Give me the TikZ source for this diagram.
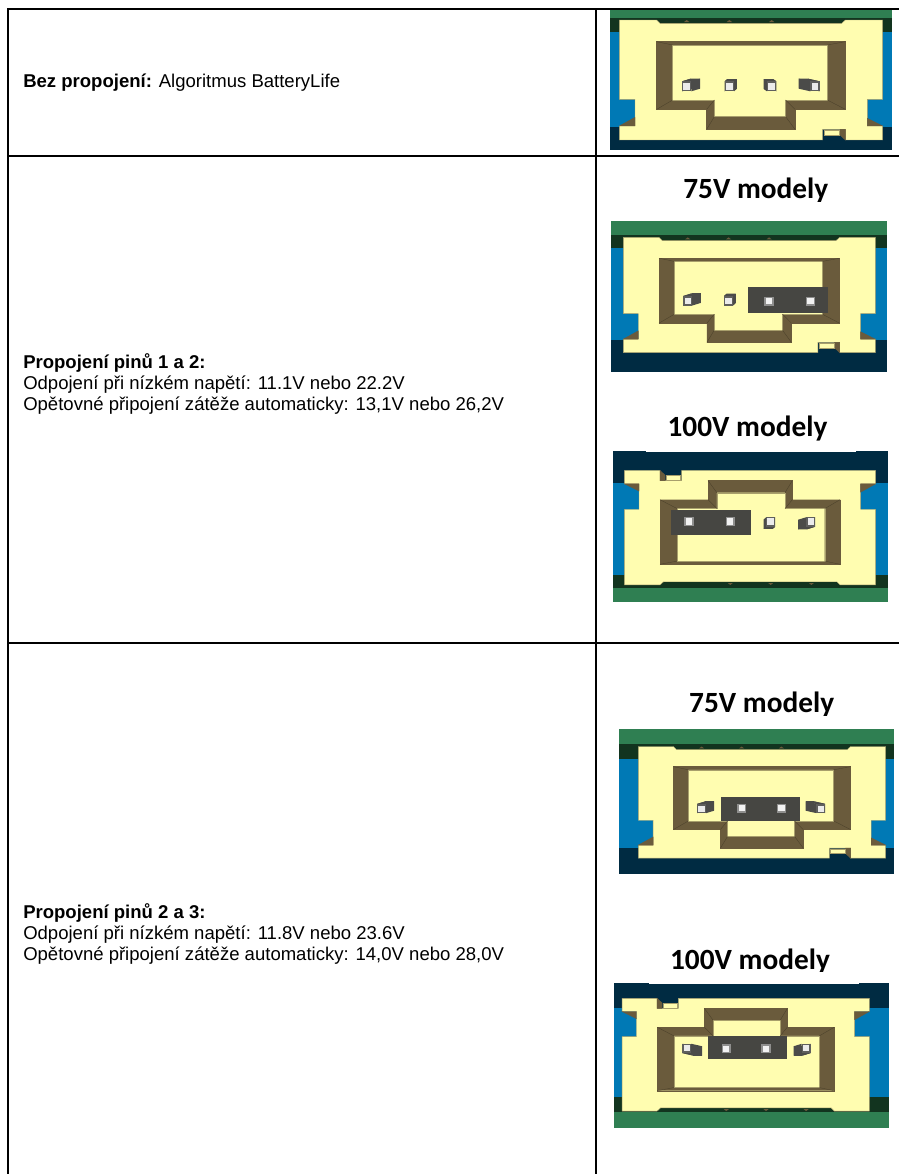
\documentclass[tikz,border=0pt]{standalone}
\usepackage{fontspec}
\setmainfont{Liberation Sans}
\newfontfamily\labelfont{Carlito}
\usepackage{tikz}
\definecolor{boardgreen}{HTML}{2F7F52}
\definecolor{darkgreen}{HTML}{12341F}
\definecolor{sideblue}{HTML}{0079B5}
\definecolor{navy}{HTML}{002B42}
\definecolor{shell}{HTML}{FFFDB0}
\definecolor{wall}{HTML}{6A5B3C}
\definecolor{edgeline}{HTML}{A89F6C}
\definecolor{pinface}{HTML}{5F5F5D}
\definecolor{pinside}{HTML}{4B4B49}
\definecolor{jumperbody}{HTML}{464642}
\tikzset{
    grid/.style={
           draw=black,
           line width=1.5pt,
           },
    desc/.style={
           anchor=west,
           align=left,
           inner sep=0pt,
           font=\fontsize{13.9pt}{15.8pt}\selectfont,
           },
    modellabel/.style={
           anchor=base,
           inner sep=0pt,
           font=\labelfont\bfseries\fontsize{22pt}{24pt}\selectfont,
           },
    shellpart/.style={
           fill=shell,
           draw=edgeline,
           line width=0.3pt,
           },
    wallpart/.style={
           fill=wall,
           draw=wall,
           line width=0.3pt,
           },
    bevel/.style={
           draw=wall!70!black,
           line width=0.25pt,
           },
}
% one connector seen from above, centred on (0,0)
\newcommand{\plugbody}{
  \path[shellpart] (-395,-180) -- (-283,-180) -- (-273,-170) -- (272,-170) -- (283,-180)
     -- (395,-180) -- (395,58) -- (349,58) -- (349,138) -- (395,138) -- (395,180)
     -- (283,180) -- (283,148) -- (215,148) -- (215,180) -- (-395,180) -- (-395,138)
     -- (-348,138) -- (-348,58) -- (-395,58) -- cycle;
  \path[wallpart] (349,115) -- (395,138) -- (349,138) -- cycle;
  \path[wallpart] (-348,112) -- (-395,138) -- (-348,138) -- cycle;
  \path[wallpart] (267,148) -- (283,148) -- (283,180) -- (267,165) -- cycle;
  \path[shellpart] (219,150) rectangle (265,165);
  \path[wallpart] (-283,-115) -- (283,-115) -- (283,88) -- (132,88) -- (132,148)
     -- (-133,148) -- (-133,88) -- (-283,88) -- cycle;
  \path[shellpart] (-235,-105) -- (229,-105) -- (229,60) -- (104,60) -- (104,110)
     -- (-110,110) -- (-110,60) -- (-235,60) -- cycle;
  \foreach \xa/\ya/\xb/\yb in {-283/-115/-235/-105, 283/-115/229/-105, 283/88/229/60,
     132/88/104/60, 132/148/104/110, -133/148/-110/110, -133/88/-110/60, -283/88/-235/60}
     \draw[bevel] (\xa,\ya) -- (\xb,\yb);
  \foreach \xa in {-193,-65,62}
     \fill[wall] (\xa-8,-174) -- (\xa+8,-174) -- (\xa,-180) -- cycle;
}
% loose pin: position, then how far its shaft leans
\newcommand{\loosepin}[4]{
  \fill[pinside] (#1-14+#3,#2-16+#4) rectangle (#1+14+#3,#2+14+#4);
  \fill[pinside] (#1-14,#2-16) -- (#1-14+#3,#2-16+#4) -- (#1+14+#3,#2-16+#4) -- (#1+14,#2-16) -- cycle;
  \fill[pinside] (#1-14,#2-16) -- (#1-14+#3,#2-16+#4) -- (#1-14+#3,#2+14+#4) -- (#1-14,#2+14) -- cycle;
  \fill[pinside] (#1+14,#2-16) -- (#1+14+#3,#2-16+#4) -- (#1+14+#3,#2+14+#4) -- (#1+14,#2+14) -- cycle;
  \fill[pinface] (#1-14,#2-16) rectangle (#1+14,#2+14);
  \fill[white!92!black] (#1-10,#2-10) rectangle (#1+10,#2+10);
}
\newcommand{\jumper}[4]{
  \fill[jumperbody] (#1,#3) rectangle (#2,#4);
  \foreach \xa in {-193,-65,62,192}{
     \ifnum\xa>\numexpr#1\relax \ifnum\xa<\numexpr#2\relax
        \fill[pinface!70!white] (\xa-15,5) rectangle (\xa+15,34);
        \fill[white!95!black] (\xa-10,10) rectangle (\xa+10,29);
     \fi \fi
  }
}
\newcommand{\bandstack}[3]{
  \foreach \ya/\yb/\bandcol in {#3}
     \fill[\bandcol] (#1,\ya) rectangle (#2,\yb);
}
\begin{document}
\begin{tikzpicture}[x=0.75pt,y=-0.75pt]
  \useasboundingbox (0,0) rectangle (899,1174);
  \fill[white] (0,0) rectangle (899,1174);

  % table texts
  \node[desc] (nolink) at (23,83) {\textbf{Bez propojení:} Algoritmus BatteryLife};
  \node[desc] (link12) at (23,384.3) {\textbf{Propojení pinů 1 a 2:}\\Odpojení při nízkém napětí: 11.1V nebo 22.2V\\Opětovné připojení zátěže automaticky: 13,1V nebo 26,2V};
  \node[desc] (link23) at (23,934.3) {\textbf{Propojení pinů 2 a 3:}\\Odpojení při nízkém napětí: 11.8V nebo 23.6V\\Opětovné připojení zátěže automaticky: 14,0V nebo 28,0V};

  % model captions, their lower edge is cut off by the picture below them
  \node[modellabel] (m75a)  at (755.8,198.3) {75V modely};
  \node[modellabel] (m100a) at (747.5,436.7) {100V modely};
  \node[modellabel] (m75b)  at (761.7,712.3) {75V modely};
  \node[modellabel] (m100b) at (750,969.3)   {100V modely};
  \fill[white] (660,201.7) rectangle (850,212);
  \fill[white] (646,440.8) rectangle (856,451);
  \fill[white] (660,715.7) rectangle (860,727);
  \fill[white] (649,972.3) rectangle (859,983.3);

  % row 1
  \bandstack{610}{892}{9/17.7/boardgreen, 17.7/31.7/darkgreen, 31.7/126.7/sideblue, 126.7/150/navy}
  \begin{scope}[shift={(751,80)},xscale=0.3333,yscale=0.3333]
    \plugbody
    \loosepin{-193}{20}{26}{-8}
    \loosepin{-65}{20}{8}{-7}
    \loosepin{62}{20}{-10}{-7}
    \loosepin{192}{20}{-35}{-8}
  \end{scope}

  % row 2
  \bandstack{611}{887}{221/235/boardgreen, 235/248.3/darkgreen, 248.3/340/sideblue, 340/371.7/navy}
  \begin{scope}[shift={(749.3,295)},xscale=0.319,yscale=0.32]
    \plugbody
    \loosepin{-193}{19}{26}{-8}
    \loosepin{-65}{19}{8}{-7}
    \jumper{-4}{248}{-24}{57}
  \end{scope}
  \bandstack{613}{888}{451/482.7/navy, 482.7/575/sideblue, 575/587.7/darkgreen, 587.7/601.7/boardgreen}
  \begin{scope}[shift={(750,527.7)},xscale=-0.318,yscale=-0.318]
    \plugbody
    \loosepin{-191}{19}{26}{-8}
    \loosepin{-65}{19}{8}{-7}
    \jumper{-4}{248}{-24}{57}
  \end{scope}
  \fill[white] (646,450.5) rectangle (856,452);

  % row 3
  \bandstack{619}{894}{729.3/744.3/boardgreen, 744.3/759.3/darkgreen, 759.3/848.3/sideblue, 848.3/874/navy}
  \begin{scope}[shift={(762,802.3)},xscale=0.313,yscale=0.31]
    \plugbody
    \jumper{-130}{121}{-16}{60}
    \loosepin{-193}{21}{26}{-8}
    \loosepin{188}{21}{-35}{-8}
  \end{scope}
  \bandstack{614}{889}{983.3/1007.7/navy, 1007.7/1097.3/sideblue, 1097.3/1112.3/darkgreen, 1112.3/1127.7/boardgreen}
  \begin{scope}[shift={(745.7,1054.7)},xscale=-0.313,yscale=-0.313]
    \plugbody
    \jumper{-131}{121}{-14}{60}
    \loosepin{-193}{21}{26}{-8}
    \loosepin{188}{21}{-35}{-8}
  \end{scope}
  \fill[white] (649,983) rectangle (859,984.3);

  % table lines
  \draw[grid] (8,1174) -- (8,8.5) -- (899,8.5);
  \draw[grid] (8,156) -- (899,156);
  \draw[grid] (8,643) -- (899,643);
  \draw[grid] (596,8.5) -- (596,1174);
\end{tikzpicture}
\end{document}
